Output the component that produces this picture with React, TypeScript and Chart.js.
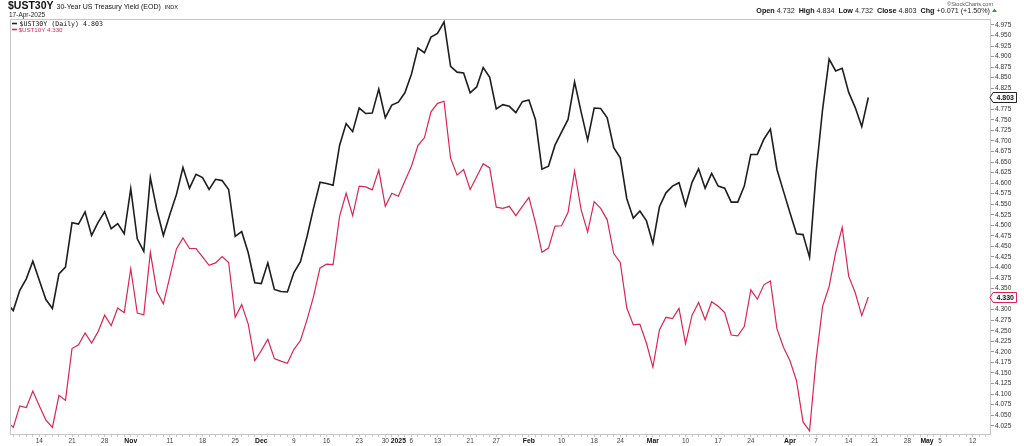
import React, { useEffect, useRef } from 'react';
import { Chart, registerables } from 'chart.js';
Chart.register(...registerables);

// Trading days (bond market) shown on the x axis
const oct2024 = [7, 8, 9, 10, 11, 14, 15, 16, 17, 18, 21, 22, 23, 24, 25, 28, 29, 30, 31];
const nov2024 = [1, 4, 5, 6, 7, 8, 11, 12, 13, 14, 15, 18, 19, 20, 21, 22, 25, 26, 27, 29];
const dec2024 = [2, 3, 4, 5, 6, 9, 10, 11, 12, 13, 16, 17, 18, 19, 20, 23, 24, 26, 27, 30, 31];
const jan2025 = [2, 3, 6, 7, 8, 10, 13, 14, 15, 16, 17, 21, 22, 23, 24, 27, 28, 29, 30, 31];
const feb2025 = [3, 4, 5, 6, 7, 10, 11, 12, 13, 14, 18, 19, 20, 21, 24, 25, 26, 27, 28];
const mar2025 = [3, 4, 5, 6, 7, 10, 11, 12, 13, 14, 17, 18, 19, 20, 21, 24, 25, 26, 27, 28, 31];
const apr2025 = [1, 2, 3, 4, 7, 8, 9, 10, 11, 14, 15, 16, 17, 21, 22, 23, 24, 25, 28, 29, 30];
const may2025 = [1, 2, 5, 6, 7, 8, 9, 12, 13, 14];

// $UST30Y daily close (from 2024-10-07 to 2025-04-17)
const ust30y = [
  4.316, 4.298, 4.346, 4.373, 4.415, 4.369, 4.324, 4.303, 4.385, 4.401, 4.506, 4.503, 4.532, 4.476, 4.507, 4.532, 4.492, 4.504, 4.480, 4.587, 4.468, 4.438, 4.613, 4.537, 4.476,
  4.526, 4.573, 4.637, 4.588, 4.621, 4.613, 4.585, 4.609, 4.606, 4.585, 4.474, 4.485, 4.435, 4.364, 4.362, 4.411, 4.348, 4.343, 4.342, 4.388, 4.414, 4.473, 4.540, 4.602, 4.599, 4.595, 4.690,
  4.741, 4.722, 4.778, 4.765, 4.766, 4.823, 4.755, 4.785, 4.792, 4.814, 4.858, 4.920, 4.909, 4.946, 4.955, 4.982, 4.877, 4.863, 4.861, 4.814, 4.828, 4.874, 4.851, 4.776,
  4.786, 4.782, 4.767, 4.793, 4.797, 4.751, 4.633, 4.640, 4.690, 4.721, 4.751, 4.840, 4.769, 4.702, 4.778, 4.777, 4.755, 4.684, 4.660, 4.563, 4.517, 4.534, 4.511, 4.457,
  4.544, 4.577, 4.593, 4.601, 4.547, 4.602, 4.634, 4.588, 4.623, 4.593, 4.588, 4.555, 4.555, 4.593, 4.668, 4.668, 4.704, 4.728, 4.633, 4.581, 4.530, 4.480, 4.478, 4.424,
  4.625, 4.775, 4.894, 4.866, 4.872, 4.815, 4.779, 4.734, 4.803,
];

// $UST10Y daily close
const ust10y = [
  4.036, 4.021, 4.072, 4.068, 4.107, 4.072, 4.038, 4.021, 4.097, 4.085, 4.208, 4.217, 4.245, 4.221, 4.248, 4.287, 4.262, 4.304, 4.293, 4.397, 4.292, 4.288, 4.436, 4.343, 4.314,
  4.379, 4.444, 4.470, 4.445, 4.445, 4.425, 4.405, 4.411, 4.426, 4.412, 4.282, 4.312, 4.266, 4.179, 4.203, 4.230, 4.184, 4.178, 4.173, 4.206, 4.227, 4.276, 4.331, 4.399, 4.408, 4.407, 4.522,
  4.576, 4.523, 4.593, 4.591, 4.584, 4.631, 4.545, 4.576, 4.569, 4.605, 4.640, 4.689, 4.708, 4.769, 4.789, 4.794, 4.659, 4.619, 4.632, 4.585, 4.615, 4.646, 4.636, 4.543,
  4.540, 4.545, 4.523, 4.545, 4.566, 4.507, 4.436, 4.446, 4.498, 4.499, 4.531, 4.629, 4.537, 4.484, 4.556, 4.540, 4.513, 4.433, 4.412, 4.304, 4.264, 4.266, 4.221, 4.164,
  4.252, 4.282, 4.279, 4.303, 4.219, 4.287, 4.317, 4.276, 4.319, 4.308, 4.293, 4.240, 4.238, 4.260, 4.347, 4.325, 4.359, 4.368, 4.255, 4.211, 4.179, 4.132, 4.034, 4.013,
  4.181, 4.308, 4.355, 4.435, 4.495, 4.379, 4.340, 4.286, 4.330,
];

// x-axis tick labels (date -> text)
const tickDates = [
  '2024-10-14', '2024-10-21', '2024-10-28', '2024-11-01', '2024-11-11', '2024-11-18', '2024-11-25',
  '2024-12-02', '2024-12-09', '2024-12-16', '2024-12-23', '2024-12-30', '2025-01-02', '2025-01-06',
  '2025-01-13', '2025-01-21', '2025-01-27', '2025-02-03', '2025-02-10', '2025-02-18', '2025-02-24',
  '2025-03-03', '2025-03-10', '2025-03-17', '2025-03-24', '2025-04-01', '2025-04-07', '2025-04-14',
  '2025-04-21', '2025-04-28', '2025-05-01', '2025-05-05', '2025-05-12',
];
const tickTexts = [
  '14', '21', '28', 'Nov', '11', '18', '25',
  'Dec', '9', '16', '23', '30', '2025', '6',
  '13', '21', '27', 'Feb', '10', '18', '24',
  'Mar', '10', '17', '24', 'Apr', '7', '14',
  '21', '28', 'May', '5', '12',
];
const boldTickTexts = ['Nov', 'Dec', '2025', 'Feb', 'Mar', 'Apr', 'May'];

const Y_MIN = 4.003;
const Y_MAX = 4.989;
const Y_TICK_FIRST = 4.025;
const Y_TICK_LAST = 4.975;
const Y_TICK_STEP = 0.025;

const headerSegments: [string, boolean][] = [
  ['Open ', true], ['4.732  ', false],
  ['High ', true], ['4.834  ', false],
  ['Low ', true], ['4.732  ', false],
  ['Close ', true], ['4.803  ', false],
  ['Chg ', true], ['+0.071 (+1.50%)', false],
];

const pad = (n: number) => (n < 10 ? '0' + n : '' + n);
const tradingDates: string[] = [
  ...oct2024.map((d) => `2024-10-${pad(d)}`),
  ...nov2024.map((d) => `2024-11-${pad(d)}`),
  ...dec2024.map((d) => `2024-12-${pad(d)}`),
  ...jan2025.map((d) => `2025-01-${pad(d)}`),
  ...feb2025.map((d) => `2025-02-${pad(d)}`),
  ...mar2025.map((d) => `2025-03-${pad(d)}`),
  ...apr2025.map((d) => `2025-04-${pad(d)}`),
  ...may2025.map((d) => `2025-05-${pad(d)}`),
];

const BLACK = '#1e1e1e';
const RED = '#dc2550';
const SANS = '"Liberation Sans", Arial, sans-serif';

export default function App() {
  const canvasRef = useRef<HTMLCanvasElement | null>(null);

  useEffect(() => {
    const canvas = canvasRef.current;
    if (!canvas) return;

    const labelByIndex: Record<number, string> = {};
    tickDates.forEach((d, k) => {
      const idx = tradingDates.indexOf(d);
      if (idx >= 0) labelByIndex[idx] = tickTexts[k];
    });

    const last30 = ust30y[ust30y.length - 1];
    const last10 = ust10y[ust10y.length - 1];

    const yTicks: number[] = [];
    for (let v = Y_TICK_FIRST; v <= Y_TICK_LAST + 1e-9; v += Y_TICK_STEP) {
      yTicks.push(Math.round(v * 1000) / 1000);
    }

    const decor = {
      id: 'decor',
      afterDraw(chart: any) {
        const { ctx, chartArea: a } = chart;
        const yScale = chart.scales.y;
        ctx.save();
        // frame
        ctx.strokeStyle = '#c6c6c6';
        ctx.lineWidth = 1;
        ctx.strokeRect(Math.round(a.left) + 0.5, Math.round(a.top) + 0.5,
          Math.round(a.right - a.left) - 1, Math.round(a.bottom - a.top) - 1);

        // title
        ctx.textBaseline = 'alphabetic';
        ctx.textAlign = 'left';
        ctx.fillStyle = '#111';
        ctx.font = `bold 10.5px ${SANS}`;
        ctx.fillText('$UST30Y', 8, 9);
        const w = ctx.measureText('$UST30Y').width;
        ctx.font = `7px ${SANS}`;
        ctx.fillText('30-Year US Treasury Yield (EOD)', 8 + w + 3, 9);
        const w2 = ctx.measureText('30-Year US Treasury Yield (EOD)').width;
        ctx.font = `5.5px ${SANS}`;
        ctx.fillText('INDX', 8 + w + 3 + w2 + 4, 9);
        ctx.font = `6.5px ${SANS}`;
        ctx.fillStyle = '#222';
        ctx.fillText('17-Apr-2025', 9, 16.5);

        // legend
        ctx.lineWidth = 1.6;
        ctx.strokeStyle = BLACK;
        ctx.beginPath(); ctx.moveTo(12, 23.5); ctx.lineTo(17, 23.5); ctx.stroke();
        ctx.font = `6.6px "DejaVu Sans Mono", monospace`;
        ctx.fillStyle = '#111';
        ctx.fillText(`$UST30Y (Daily) ${last30.toFixed(3)}`, 19.5, 26);
        ctx.strokeStyle = RED;
        ctx.beginPath(); ctx.moveTo(12, 29.5); ctx.lineTo(17, 29.5); ctx.stroke();
        ctx.font = `6.2px ${SANS}`;
        ctx.fillStyle = RED;
        ctx.fillText(`$UST10Y ${last10.toFixed(3)}`, 18.5, 32);

        // right header
        ctx.font = `5.5px ${SANS}`;
        ctx.fillStyle = '#555';
        ctx.textAlign = 'right';
        ctx.fillText('\u00A9StockCharts.com', 993, 6);
        ctx.textAlign = 'left';
        let total = 0;
        for (const [t, b] of headerSegments) {
          ctx.font = `${b ? 'bold ' : ''}7.2px ${SANS}`;
          total += ctx.measureText(t).width;
        }
        let x = 990 - total;
        for (const [t, b] of headerSegments) {
          ctx.font = `${b ? 'bold ' : ''}7.2px ${SANS}`;
          ctx.fillStyle = b ? '#111' : '#222';
          ctx.fillText(t, x, 12.5);
          x += ctx.measureText(t).width;
        }
        ctx.fillStyle = '#2a9d3a';
        ctx.beginPath();
        ctx.moveTo(992, 12); ctx.lineTo(997, 12); ctx.lineTo(994.5, 8.5); ctx.closePath(); ctx.fill();

        // value boxes on the right axis
        const box = (v: number, stroke: string) => {
          const y = Math.round(yScale.getPixelForValue(v)) + 0.5;
          const left = a.right + 2;
          const right = 1016.5;
          ctx.beginPath();
          ctx.moveTo(a.right - 1, y);
          ctx.lineTo(left, y - 5);
          ctx.lineTo(right, y - 5);
          ctx.lineTo(right, y + 5);
          ctx.lineTo(left, y + 5);
          ctx.closePath();
          ctx.fillStyle = '#fff';
          ctx.fill();
          ctx.lineWidth = 1;
          ctx.strokeStyle = stroke;
          ctx.stroke();
          ctx.fillStyle = '#111';
          ctx.font = `bold 7px ${SANS}`;
          ctx.textAlign = 'center';
          ctx.textBaseline = 'middle';
          ctx.fillText(v.toFixed(3), (left + right) / 2 + 0.5, y + 0.5);
        };
        box(last30, '#222');
        box(last10, RED);
        ctx.restore();
      },
    };

    const chart = new Chart(canvas, {
      type: 'line',
      data: {
        datasets: [
          {
            label: '$UST30Y',
            data: ust30y.map((v, i) => ({ x: i, y: v })),
            borderColor: BLACK,
            borderWidth: 1.6,
            pointRadius: 0,
            tension: 0,
          },
          {
            label: '$UST10Y',
            data: ust10y.map((v, i) => ({ x: i, y: v })),
            borderColor: RED,
            borderWidth: 1.2,
            pointRadius: 0,
            tension: 0,
          },
        ],
      },
      options: {
        responsive: false,
        animation: false,
        events: [],
        layout: { padding: { left: 10, top: 19, right: 0, bottom: 0 } },
        plugins: { legend: { display: false }, tooltip: { enabled: false }, title: { display: false } },
        scales: {
          x: {
            type: 'linear',
            min: 0.5,
            max: 150.8,
            border: { display: false },
            grid: { drawOnChartArea: false, tickLength: 2, color: '#c8c8c8', lineWidth: 1 },
            afterBuildTicks: (scale: any) => {
              scale.ticks = tradingDates
                .map((_, i) => ({ value: i }))
                .filter((t) => t.value >= 1 && t.value <= 150);
            },
            afterFit: (scale: any) => { scale.height = 11; },
            ticks: {
              autoSkip: false,
              maxRotation: 0,
              minRotation: 0,
              padding: 0,
              callback: (value: any) => labelByIndex[value as number] ?? '',
              color: (c: any) => (boldTickTexts.includes(c.tick?.label) ? '#111' : '#444'),
              font: (c: any) =>
                boldTickTexts.includes(c.tick?.label)
                  ? { family: SANS, size: 6.8, weight: 'bold' }
                  : { family: SANS, size: 6.5, weight: 'normal' },
            },
          },
          y: {
            type: 'linear',
            position: 'right',
            min: Y_MIN,
            max: Y_MAX,
            border: { display: false },
            grid: { drawOnChartArea: false, tickLength: 3, color: '#999' },
            afterBuildTicks: (scale: any) => {
              scale.ticks = yTicks.map((v) => ({ value: v }));
            },
            afterFit: (scale: any) => { scale.width = 33; },
            ticks: {
              autoSkip: false,
              padding: 1,
              color: '#333',
              font: { family: SANS, size: 6.5 },
              callback: (value: any) => {
                const v = Number(value);
                if (Math.abs(v - last30) < 0.013 || Math.abs(v - last10) < 0.013) return '';
                return v.toFixed(3);
              },
            },
          },
        },
      },
      plugins: [decor],
    } as any);

    return () => chart.destroy();
  }, []);

  return (
    <div style={{ position: 'absolute', left: 0, top: 0, width: 1024, height: 446, background: '#fff' }}>
      <canvas ref={canvasRef} width={1024} height={446} style={{ display: 'block' }} />
    </div>
  );
}
